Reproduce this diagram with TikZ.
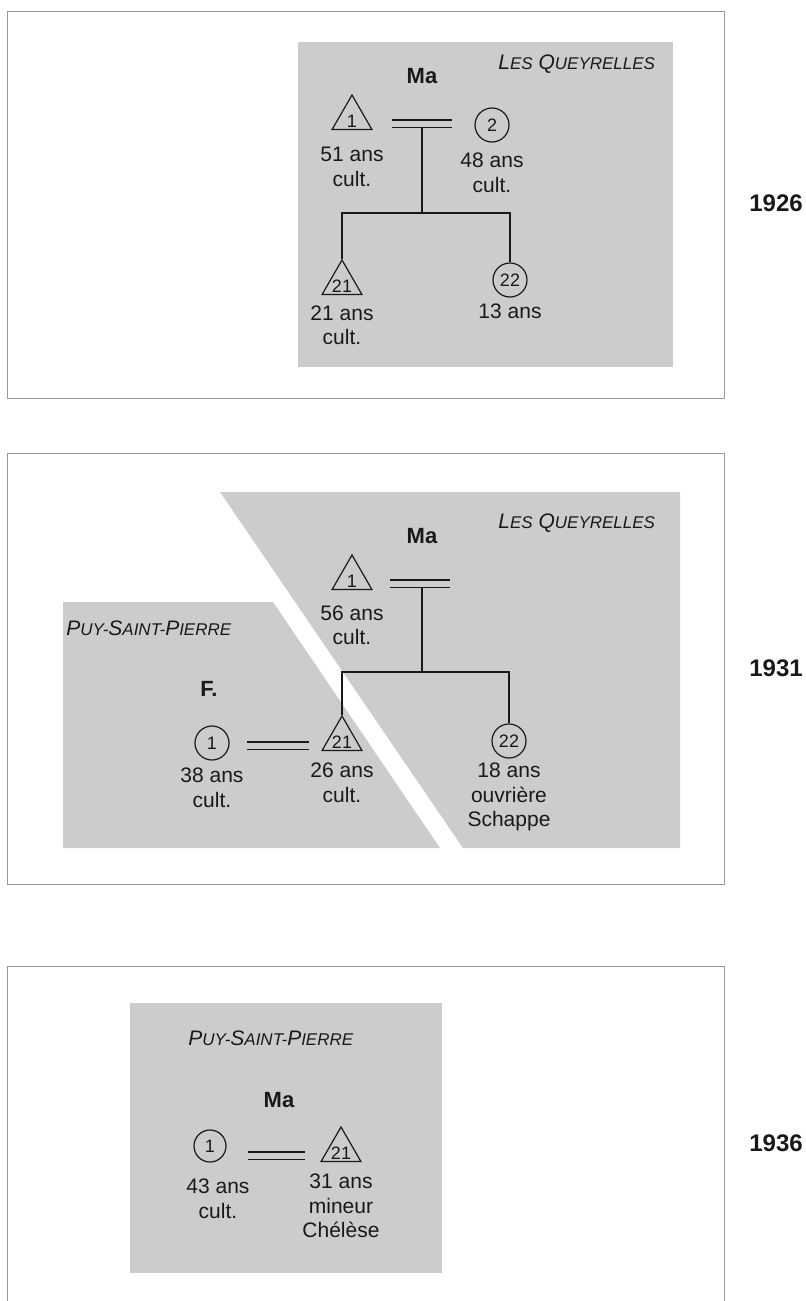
\documentclass[tikz,border=0pt]{standalone}
\usepackage{fontspec}
\setmainfont{Liberation Sans}
\usetikzlibrary{
  positioning,
  shapes.geometric
}
\definecolor{fond}{gray}{0.8}
\definecolor{filet}{gray}{0.6}
\definecolor{encre}{gray}{0.1}
\newcommand{\petit}[1]{{\fontsize{8.5}{10}\selectfont #1}}
\newcommand{\bas}[1]{\raisebox{-4.9pt}{#1}}
\tikzset{
  every node/.style={text=encre},
  homme/.style={regular polygon, regular polygon sides=3, draw=encre, line width=0.6pt,
    minimum size=23pt, inner sep=-3pt, text height=0pt, text depth=0pt,
    font=\fontsize{9}{10}\selectfont},
  femme/.style={circle, draw=encre, line width=0.6pt, minimum size=17pt, inner sep=0pt,
    font=\fontsize{9}{10}\selectfont},
  info/.style={align=center, inner sep=0pt, font=\fontsize{10.5}{12.3}\selectfont},
  nom/.style={font=\bfseries\fontsize{11}{13}\selectfont},
  lieu/.style={anchor=base west, inner sep=0pt, font=\itshape\fontsize{10.5}{12}\selectfont},
  annee/.style={font=\bfseries\fontsize{12}{14}\selectfont},
  lien/.style={draw=encre, line width=0.6pt},
  mariage/.style={draw=encre, line width=0.6pt, double=fond, double distance=3pt},
  panneau/.style={draw=filet, line width=0.5pt}
}

\begin{document}
\begin{tikzpicture}[x=0.5pt, y=-0.5pt]
    \useasboundingbox (0,0) rectangle (805,1301);

    % 1926
    \draw[panneau] (7.5,11) rectangle (724,398);
    \fill[fond] (298,42) rectangle (673,367);
    \node[lieu] (q1) at (498,69) {L\petit{ES} Q\petit{UEYRELLES}};
    \node[nom] (ma1) at (422,76) {Ma};
    \node[homme] (a1) at (352,118) {\bas{1}};
    \node[femme] (a2) at (492,125) {2};
    \node[homme] (a21) at (342,283) {\bas{21}};
    \node[femme] (a22) at (510,280) {22};
    \node[info, below=8.5pt of a1] (l1) {51 ans\\cult.};
    \node[info, below=5pt of a2] (l2) {48 ans\\cult.};
    \node[info, below=5pt of a21] (l21) {21 ans\\cult.};
    \node[info, below=3pt of a22] (l22) {13 ans};
    \node[annee] (y1) at (776,203) {1926};
    \coordinate (m1g) at (392,123.5);
    \coordinate (m1d) at (452,123.5);
    \coordinate (d1) at (422,127);
    \coordinate (f1) at (422,213);
    \draw[mariage] (m1g) -- (m1d);
    \draw[lien] (d1) -- (f1);
    \draw[lien] (a21.corner 1) |- (f1) -| (a22.north);

    % 1931
    \draw[panneau] (7.5,453) rectangle (724,884);
    \fill[fond] (220,492) -- (680,492) -- (680,848) -- (463,848) -- cycle;
    \fill[fond] (63,602) -- (273,602) -- (440,848) -- (63,848) -- cycle;
    \node[lieu] (q2) at (498,528) {L\petit{ES} Q\petit{UEYRELLES}};
    \node[lieu] (p2) at (66,635) {P\petit{UY-}S\petit{AINT-}P\petit{IERRE}};
    \node[nom] (ma2) at (422,536) {Ma};
    \node[nom] (fa2) at (209,689) {F.};
    \node[homme] (b1) at (352,578) {\bas{1}};
    \node[homme] (b21) at (342,739) {\bas{21}};
    \node[femme] (b22) at (509,741) {22};
    \node[femme] (b0) at (212,743) {1};
    \node[info, below=7.5pt of b1] (l3) {56 ans\\cult.};
    \node[info, below=3.5pt of b0] (l4) {38 ans\\cult.};
    \node[info, below=5.75pt of b21] (l5) {26 ans\\cult.};
    \node[info, below=2pt of b22] (l6) {18 ans\\ouvrière\\Schappe};
    \node[annee] (y2) at (776,668) {1931};
    \coordinate (m2g) at (390,583.5);
    \coordinate (m2d) at (450,583.5);
    \coordinate (d2) at (422,587);
    \coordinate (f2) at (422,672);
    \coordinate (m3g) at (247,745.5);
    \coordinate (m3d) at (309,745.5);
    \draw[mariage] (m2g) -- (m2d);
    \draw[mariage] (m3g) -- (m3d);
    \draw[lien] (d2) -- (f2);
    \draw[lien] (b21.corner 1) |- (f2) -| (b22.north);

    % 1936
    \draw[panneau] (7.5,1310) -- (7.5,966) -- (724,966) -- (724,1310);
    \fill[fond] (130,1003) rectangle (442,1273);
    \node[lieu] (p3) at (188,1045) {P\petit{UY-}S\petit{AINT-}P\petit{IERRE}};
    \node[nom] (ma3) at (279,1100) {Ma};
    \node[femme, minimum size=16pt] (c1) at (210,1146) {1};
    \node[homme] (c21) at (341,1150) {\bas{21}};
    \node[info, below=8pt of c1, xshift=4pt] (l7) {43 ans\\cult.};
    \node[info, below=5.75pt of c21] (l8) {31 ans\\mineur\\Chélèse};
    \node[annee] (y3) at (776,1143) {1936};
    \coordinate (m4g) at (248,1155.5);
    \coordinate (m4d) at (305,1155.5);
    \draw[mariage] (m4g) -- (m4d);
\end{tikzpicture}
\end{document}
